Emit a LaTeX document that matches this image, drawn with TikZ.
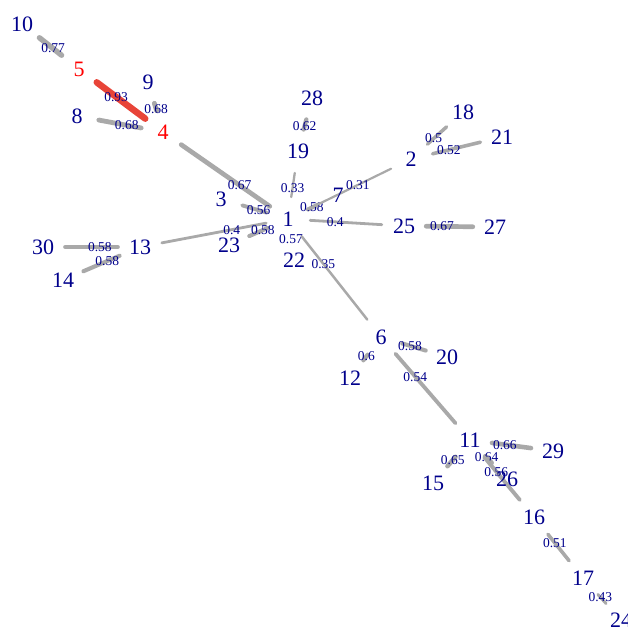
\documentclass[tikz,border=0pt]{standalone}
\usepackage{fontspec}
\setmainfont{Liberation Serif}
\usetikzlibrary{backgrounds}
\definecolor{vblue}{RGB}{0,0,139}
\definecolor{linkgray}{RGB}{169,169,169}
\definecolor{hotred}{RGB}{232,68,56}
\tikzset{
  vtx/.style={circle, minimum size=44pt, inner sep=0pt, text=vblue, font=\fontsize{22}{22}\selectfont},
  hot/.style={vtx, text=red},
  lnk/.style={draw=linkgray, line cap=round},
  hotlnk/.style={draw=hotred, line cap=round},
  wlab/.style={text=vblue, inner sep=0pt, font=\fontsize{13.5}{13.5}\selectfont},
}

\begin{document}
\begin{tikzpicture}[x=1pt, y=-1pt]
  \useasboundingbox (0,0) rectangle (627,629);
  % vertices (pixel positions)
  \node[vtx] (v1) at (288,219) {1};
  \node[vtx] (v2) at (411,159) {2};
  \node[vtx] (v3) at (221,199) {3};
  \node[hot] (v4) at (163,132) {4};
  \node[hot] (v5) at (79,69) {5};
  \node[vtx] (v6) at (381,337) {6};
  \node[vtx] (v7) at (338,195) {7};
  \node[vtx] (v8) at (77,116) {8};
  \node[vtx] (v9) at (148,82) {9};
  \node[vtx] (v10) at (22,24) {10};
  \node[vtx] (v11) at (470,440) {11};
  \node[vtx] (v12) at (350,378) {12};
  \node[vtx] (v13) at (140,247) {13};
  \node[vtx] (v14) at (63,280) {14};
  \node[vtx] (v15) at (433,483) {15};
  \node[vtx] (v16) at (534,517) {16};
  \node[vtx] (v17) at (583,578) {17};
  \node[vtx] (v18) at (463,112) {18};
  \node[vtx] (v19) at (298,151) {19};
  \node[vtx] (v20) at (447,357) {20};
  \node[vtx] (v21) at (502,137) {21};
  \node[vtx] (v22) at (294,260) {22};
  \node[vtx] (v23) at (229,245) {23};
  \node[vtx] (v24) at (621,620) {24};
  \node[vtx] (v25) at (404,226) {25};
  \node[vtx] (v26) at (507,479) {26};
  \node[vtx] (v27) at (495,227) {27};
  \node[vtx] (v28) at (312,98) {28};
  \node[vtx] (v29) at (553,451) {29};
  \node[vtx] (v30) at (43,247) {30};

  % weighted links, width ~ 7pt x weight
  \begin{pgfonlayer}{background}
    \draw[lnk, line width=5.4pt] (v10) -- node[wlab, pos=0.62] {0.77} (v5);
    \draw[hotlnk, line width=6.5pt] (v5) -- node[wlab, pos=0.40] {0.93} (v4);
    \draw[lnk, line width=4.8pt] (v9) -- node[wlab, pos=0.79] {0.68} (v4);
    \draw[lnk, line width=4.8pt] (v8) -- node[wlab, pos=0.66] {0.68} (v4);
    \draw[lnk, line width=4.7pt] (v4) -- node[wlab, pos=0.66] {0.67} (v1);
    \draw[lnk, line width=4.3pt] (v28) -- node[wlab, pos=0.66] {0.62} (v19);
    \draw[lnk, line width=2.3pt] (v19) -- node[wlab, pos=0.62] {0.33} (v1);
    \draw[lnk, line width=3.9pt] (v3) -- node[wlab, pos=0.67] {0.56} (v1);
    \draw[lnk, line width=2.8pt] (v13) -- node[wlab, pos=0.67] {0.4} (v1);
    \draw[lnk, line width=4.1pt] (v23) -- node[wlab, pos=0.74] {0.58} (v1);
    \path (v22) -- node[wlab] {0.57} (v1);
    \draw[lnk, line width=4.1pt] (v7) -- node[wlab, pos=0.61] {0.58} (v1);
    \draw[lnk, line width=2.2pt] (v2) -- node[wlab, pos=0.40] {0.31} (v1);
    \draw[lnk, line width=2.8pt] (v25) -- node[wlab, pos=0.65] {0.4} (v1);
    \draw[lnk, line width=3.5pt] (v18) -- node[wlab, pos=0.68] {0.5} (v2);
    \draw[lnk, line width=3.6pt] (v21) -- node[wlab, pos=0.66] {0.52} (v2);
    \draw[lnk, line width=4.7pt] (v25) -- node[wlab, pos=0.34] {0.67} (v27);
    \draw[lnk, line width=4.1pt] (v30) -- node[wlab, pos=0.66] {0.58} (v13);
    \draw[lnk, line width=4.1pt] (v14) -- node[wlab, pos=0.66] {0.58} (v13);
    \draw[lnk, line width=2.5pt] (v6) -- node[wlab, pos=0.67] {0.35} (v1);
    \draw[lnk, line width=4.1pt] (v6) -- node[wlab, pos=0.33] {0.58} (v20);
    \draw[lnk, line width=4.2pt] (v6) -- node[wlab, pos=0.30] {0.6} (v12);
    \draw[lnk, line width=3.8pt] (v6) -- node[wlab, pos=0.33] {0.54} (v11);
    \draw[lnk, line width=4.6pt] (v11) -- node[wlab, pos=0.33] {0.66} (v29);
    \draw[lnk, line width=4.6pt] (v11) -- node[wlab, pos=0.34] {0.65} (v15);
    \draw[lnk, line width=4.5pt] (v11) -- node[wlab, pos=0.20] {0.64} (v26);
    \draw[lnk, line width=3.9pt] (v11) -- node[wlab, pos=0.34] {0.56} (v16);
    \draw[lnk, line width=3.6pt] (v16) -- node[wlab, pos=0.33] {0.51} (v17);
    \draw[lnk, line width=3.0pt] (v17) -- node[wlab, pos=0.30] {0.43} (v24);
  \end{pgfonlayer}
\end{tikzpicture}
\end{document}
